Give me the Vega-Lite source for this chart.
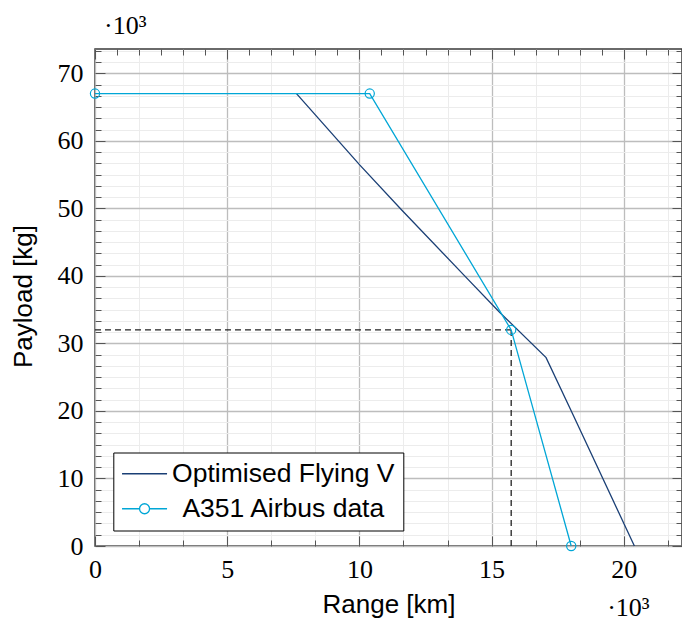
{
  "$schema": "https://vega.github.io/schema/vega-lite/v6.json",
  "width": 587,
  "height": 497,
  "autosize": {"type": "none"},
  "padding": {"left": 95, "top": 49, "right": 0, "bottom": 75},
  "background": "white",
  "config": {"view": {"stroke": "#3a3a3a", "strokeWidth": 1.5}, "axis": {"domain": false}},
  "datasets": {
    "curves": [
      {"series": "Optimised Flying V", "range": 7.62, "payload": 67},
      {"series": "Optimised Flying V", "range": 10.01, "payload": 56.44},
      {"series": "Optimised Flying V", "range": 11.59, "payload": 49.8},
      {"series": "Optimised Flying V", "range": 13.98, "payload": 40},
      {"series": "Optimised Flying V", "range": 15.3, "payload": 34.62},
      {"series": "Optimised Flying V", "range": 17.06, "payload": 27.9},
      {"series": "Optimised Flying V", "range": 18.07, "payload": 19.5},
      {"series": "Optimised Flying V", "range": 20.4, "payload": 0},
      {"series": "A351 Airbus data", "range": 0, "payload": 67},
      {"series": "A351 Airbus data", "range": 10.39, "payload": 67},
      {"series": "A351 Airbus data", "range": 15.74, "payload": 32},
      {"series": "A351 Airbus data", "range": 18.01, "payload": 0}
    ],
    "guides": [
      {"x": 0, "x2": 15.74, "y": 32, "y2": 32},
      {"x": 15.74, "x2": 15.74, "y": 0, "y2": 32}
    ]
  },
  "layer": [
    {
      "data": {"name": "guides"},
      "mark": {"type": "rule", "strokeDash": [6, 4], "color": "#222", "strokeWidth": 1.3},
      "encoding": {
        "x": {
          "field": "x", "type": "quantitative",
          "scale": {"domain": [0, 22.2], "nice": false, "zero": false},
          "axis": {
            "orient": "bottom",
            "values": [0, 0.8333, 1.6667, 2.5, 3.3333, 4.1667, 5, 5.8333, 6.6667, 7.5, 8.3333, 9.1667, 10, 10.8333, 11.6667, 12.5, 13.3333, 14.1667, 15, 15.8333, 16.6667, 17.5, 18.3333, 19.1667, 20, 20.8333, 21.6667],
            "format": "d",
            "labelExpr": "datum.value % 5 === 0 ? datum.label : ''",
            "grid": true,
            "gridColor": {"condition": {"test": "datum.value % 5 === 0", "value": "#bdbdbd"}, "value": "#ececec"},
            "gridWidth": {"condition": {"test": "datum.value % 5 === 0", "value": 1.3}, "value": 1},
            "tickSize": {"condition": {"test": "datum.value % 5 === 0", "value": -10}, "value": -6},
            "tickColor": "#555",
            "tickWidth": 1,
            "labelFont": "Liberation Serif",
            "labelFontSize": 26,
            "labelColor": "#000",
            "labelPadding": 20,
            "labelFlush": false,
            "labelOverlap": false,
            "title": "Range [km]",
            "titleFont": "Liberation Sans",
            "titleFontSize": 26,
            "titleFontWeight": "normal",
            "titleColor": "#000",
            "titleBaseline": "alphabetic",
            "titleAlign": "center",
            "titleX": 293.5,
            "titleY": 66.7
          }
        },
        "x2": {"field": "x2"},
        "y": {
          "field": "y", "type": "quantitative",
          "scale": {"domain": [0, 73.6], "nice": false, "zero": false},
          "axis": {
            "orient": "left",
            "values": [0, 1.6667, 3.3333, 5, 6.6667, 8.3333, 10, 11.6667, 13.3333, 15, 16.6667, 18.3333, 20, 21.6667, 23.3333, 25, 26.6667, 28.3333, 30, 31.6667, 33.3333, 35, 36.6667, 38.3333, 40, 41.6667, 43.3333, 45, 46.6667, 48.3333, 50, 51.6667, 53.3333, 55, 56.6667, 58.3333, 60, 61.6667, 63.3333, 65, 66.6667, 68.3333, 70, 71.6667, 73.3333],
            "format": "d",
            "labelExpr": "datum.value % 10 === 0 ? datum.label : ''",
            "grid": true,
            "gridColor": {"condition": {"test": "datum.value % 10 === 0", "value": "#bdbdbd"}, "value": "#ececec"},
            "gridWidth": {"condition": {"test": "datum.value % 10 === 0", "value": 1.3}, "value": 1},
            "tickSize": {"condition": {"test": "datum.value % 10 === 0", "value": -10}, "value": -6},
            "tickColor": "#555",
            "tickWidth": 1,
            "labelFont": "Liberation Serif",
            "labelFontSize": 26,
            "labelColor": "#000",
            "labelPadding": 22,
            "labelFlush": false,
            "labelOverlap": false,
            "title": "Payload [kg]",
            "titleFont": "Liberation Sans",
            "titleFontSize": 26,
            "titleFontWeight": "normal",
            "titleColor": "#000",
            "titleBaseline": "alphabetic",
            "titleAlign": "center",
            "titleAngle": -90,
            "titleX": -63.4,
            "titleY": 247
          }
        },
        "y2": {"field": "y2"}
      }
    },
    {
      "data": {"name": "curves"},
      "mark": {"type": "line", "strokeWidth": 1.3},
      "encoding": {
        "x": {
          "field": "range", "type": "quantitative",
          "scale": {"domain": [0, 22.2], "nice": false, "zero": false},
          "axis": {
            "orient": "top",
            "values": [0, 0.8333, 1.6667, 2.5, 3.3333, 4.1667, 5, 5.8333, 6.6667, 7.5, 8.3333, 9.1667, 10, 10.8333, 11.6667, 12.5, 13.3333, 14.1667, 15, 15.8333, 16.6667, 17.5, 18.3333, 19.1667, 20, 20.8333, 21.6667],
            "labels": false,
            "grid": false,
            "tickSize": {"condition": {"test": "datum.value % 5 === 0", "value": -10}, "value": -6},
            "tickColor": "#555",
            "tickWidth": 1,
            "title": "·10³",
            "titleFont": "Liberation Serif",
            "titleFontSize": 26,
            "titleFontWeight": "normal",
            "titleColor": "#000",
            "titleAngle": 0,
            "titleAlign": "left",
            "titleBaseline": "alphabetic",
            "titleX": 511.7,
            "titleY": 566
          }
        },
        "y": {
          "field": "payload", "type": "quantitative",
          "scale": {"domain": [0, 73.6], "nice": false, "zero": false},
          "axis": {
            "orient": "right",
            "values": [0, 1.6667, 3.3333, 5, 6.6667, 8.3333, 10, 11.6667, 13.3333, 15, 16.6667, 18.3333, 20, 21.6667, 23.3333, 25, 26.6667, 28.3333, 30, 31.6667, 33.3333, 35, 36.6667, 38.3333, 40, 41.6667, 43.3333, 45, 46.6667, 48.3333, 50, 51.6667, 53.3333, 55, 56.6667, 58.3333, 60, 61.6667, 63.3333, 65, 66.6667, 68.3333, 70, 71.6667, 73.3333],
            "labels": false,
            "grid": false,
            "tickSize": {"condition": {"test": "datum.value % 10 === 0", "value": -10}, "value": -6},
            "tickColor": "#555",
            "tickWidth": 1,
            "title": "·10³",
            "titleFont": "Liberation Serif",
            "titleFontSize": 26,
            "titleFontWeight": "normal",
            "titleColor": "#000",
            "titleAngle": 0,
            "titleAlign": "left",
            "titleBaseline": "alphabetic",
            "titleX": -578.5,
            "titleY": -15.7
          }
        },
        "color": {
          "field": "series", "type": "nominal",
          "scale": {"domain": ["Optimised Flying V", "A351 Airbus data"], "range": ["#1a3f75", "#00a6d6"]},
          "legend": {
            "title": null,
            "orient": "none",
            "legendX": 18.3,
            "legendY": 403.5,
            "padding": 8,
            "strokeColor": "#000",
            "fillColor": "#fff",
            "cornerRadius": 0,
            "symbolSize": 400,
            "symbolOffset": 10,
            "symbolStrokeWidth": 1.3,
            "labelFont": "Liberation Sans",
            "labelFontSize": 26.5,
            "labelColor": "#000",
            "labelAlign": "center",
            "labelOffset": 125.5,
            "labelLimit": 400,
            "rowPadding": 8,
            "encode": {
              "symbols": {
                "update": {
                  "shape": [
                    {"test": "datum.value === 'A351 Airbus data'", "value": "M-2.25,0L-0.5,0M0.5,0L2.25,0M0.5,0A0.5,0.5,0,1,1,-0.5,0A0.5,0.5,0,1,1,0.5,0"},
                    {"value": "M-2.25,0L2.25,0"}
                  ],
                  "fill": {"value": "transparent"},
                  "strokeWidth": {"value": 1.3}
                }
              }
            }
          }
        }
      }
    },
    {
      "data": {"name": "curves"},
      "transform": [{"filter": "datum.series === 'A351 Airbus data'"}],
      "mark": {"type": "point", "filled": false, "size": 85, "strokeWidth": 1.2, "opacity": 1},
      "encoding": {
        "x": {"field": "range", "type": "quantitative", "scale": {"domain": [0, 22.2], "nice": false, "zero": false}, "axis": null},
        "y": {"field": "payload", "type": "quantitative", "scale": {"domain": [0, 73.6], "nice": false, "zero": false}, "axis": null},
        "color": {
          "field": "series", "type": "nominal",
          "scale": {"domain": ["Optimised Flying V", "A351 Airbus data"], "range": ["#1a3f75", "#00a6d6"]},
          "legend": {
            "title": null,
            "orient": "none",
            "legendX": 18.3,
            "legendY": 403.5,
            "padding": 8,
            "strokeColor": "#000",
            "fillColor": "#fff",
            "cornerRadius": 0,
            "symbolSize": 400,
            "symbolOffset": 10,
            "symbolStrokeWidth": 1.3,
            "labelFont": "Liberation Sans",
            "labelFontSize": 26.5,
            "labelColor": "#000",
            "labelAlign": "center",
            "labelOffset": 125.5,
            "labelLimit": 400,
            "rowPadding": 8,
            "encode": {
              "symbols": {
                "update": {
                  "shape": [
                    {"test": "datum.value === 'A351 Airbus data'", "value": "M-2.25,0L-0.5,0M0.5,0L2.25,0M0.5,0A0.5,0.5,0,1,1,-0.5,0A0.5,0.5,0,1,1,0.5,0"},
                    {"value": "M-2.25,0L2.25,0"}
                  ],
                  "fill": {"value": "transparent"},
                  "strokeWidth": {"value": 1.3}
                }
              }
            }
          }
        }
      }
    }
  ],
  "resolve": {"axis": {"x": "independent", "y": "independent"}}
}
